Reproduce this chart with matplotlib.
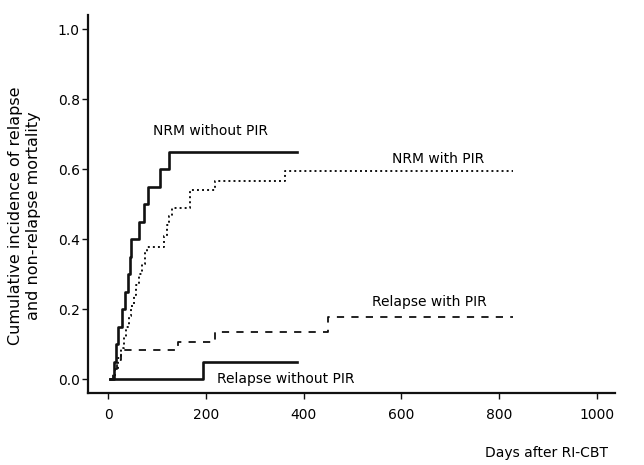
import numpy as np
import matplotlib.pyplot as plt

# cumulative incidence curves (day, value), step-post
nrm_no_days = [5, 12, 16, 21, 28, 35, 41, 45, 48, 64, 74, 82, 106, 125, 386]
nrm_no_ci = [0.0, 0.05, 0.10, 0.15, 0.20, 0.25, 0.30, 0.35, 0.40, 0.45, 0.50, 0.55, 0.60, 0.65, 0.65]

nrm_pir_days = [10, 14, 20, 26, 32, 37, 42, 48, 53, 58, 64, 70, 76, 80, 114, 120, 125, 130, 168, 219, 362, 828]
nrm_pir_ci = [0.0, 0.03, 0.06, 0.09, 0.12, 0.15, 0.18, 0.21, 0.24, 0.27, 0.30, 0.33, 0.36, 0.378,
              0.41, 0.44, 0.465, 0.489, 0.54, 0.567, 0.594, 0.594]

rel_pir_days = [5, 10, 18, 26, 143, 219, 450, 828]
rel_pir_ci = [0.0, 0.028, 0.055, 0.083, 0.107, 0.135, 0.178, 0.178]

rel_no_days = [5, 194, 386]
rel_no_ci = [0.0, 0.05, 0.05]

xticks = [0, 200, 400, 600, 800, 1000]
yticks = [0.0, 0.2, 0.4, 0.6, 0.8, 1.0]

fig = plt.figure(figsize=(6.44, 4.65), dpi=100)
ax = fig.add_axes([0.1366, 0.1548, 0.8184, 0.8129])

col = '#111111'
ax.step(nrm_no_days, nrm_no_ci, where='post', color=col, lw=1.9)
ax.step(nrm_pir_days, nrm_pir_ci, where='post', color=col, lw=1.4, linestyle=(0, (1, 1.6)))
ax.step(rel_pir_days, rel_pir_ci, where='post', color=col, lw=1.3, linestyle=(0, (4, 4)))
ax.step(rel_no_days, rel_no_ci, where='post', color=col, lw=1.9)

fs = 10
ax.text(209, 0.709, "NRM without PIR", ha='center', va='center', fontsize=fs)
ax.text(675, 0.629, "NRM with PIR", ha='center', va='center', fontsize=fs)
ax.text(658, 0.22, "Relapse with PIR", ha='center', va='center', fontsize=fs)
ax.text(223, 0.0, "Relapse without PIR", ha='left', va='center', fontsize=fs)

ax.set_xlim(-41, 1037)
ax.set_ylim(-0.04, 1.04)
ax.set_xticks(xticks)
ax.set_yticks(yticks)
ax.set_yticklabels([f"{v:.1f}" for v in yticks])
ax.tick_params(axis='both', labelsize=fs, length=4, width=1, direction='out', color=col)
ax.tick_params(axis='x', pad=7)
ax.tick_params(axis='y', pad=2)
for s in ['top', 'right']:
    ax.spines[s].set_visible(False)
for s in ['left', 'bottom']:
    ax.spines[s].set_linewidth(1.6)
    ax.spines[s].set_color(col)

ax.set_ylabel("Cumulative incidence of relapse\nand non-relapse mortality", fontsize=11.5)
ax.yaxis.set_label_coords(-0.09, 0.47)
ax.set_xlabel("Days after RI-CBT", fontsize=fs)
ax.xaxis.set_label_coords(0.87, -0.14)

fig.savefig("out.png", dpi=100)
